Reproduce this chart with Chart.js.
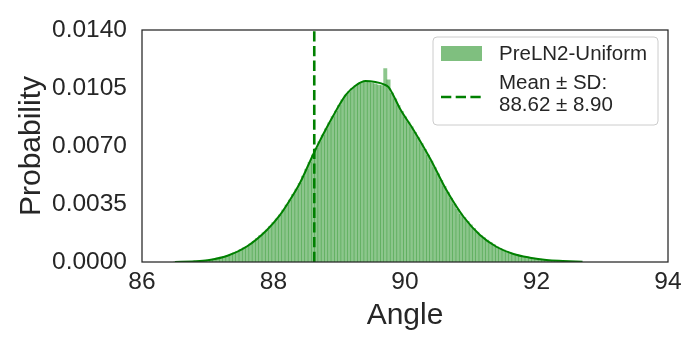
<!DOCTYPE html>
<html>
<head>
<meta charset="utf-8">
<script src="https://cdn.jsdelivr.net/npm/chart.js@4.4.1/dist/chart.umd.min.js"></script>
<style>
  html, body { margin: 0; padding: 0; background: #fff; }
</style>
</head>
<body>
<canvas id="myChart" width="700" height="350"></canvas>
<script>
// histogram bins (0.05 wide), first bin centred at 86.50
const binStart = 86.5;
const binWidth = 0.05;
const histProb = [
  0.000000, 0.000005, 0.000010, 0.000015, 0.000020, 0.000030, 0.000040, 0.000055, 0.000070, 0.000090,
  0.000110, 0.000150, 0.000190, 0.000240, 0.000290, 0.000330, 0.000380, 0.000460, 0.000550, 0.000650,
  0.000750, 0.000850, 0.000950, 0.001090, 0.001250, 0.001420, 0.001600, 0.001760, 0.001930, 0.002150,
  0.002380, 0.002600, 0.002840, 0.003140, 0.003440, 0.003740, 0.004080, 0.004400, 0.004750, 0.005180,
  0.005600, 0.006020, 0.006460, 0.006860, 0.007260, 0.007660, 0.008030, 0.008400, 0.008770, 0.009100,
  0.009450, 0.009780, 0.010080, 0.010280, 0.010480, 0.010650, 0.010750, 0.010840, 0.010900, 0.010850,
  0.010800, 0.010750, 0.010680, 0.010650, 0.011670, 0.011000, 0.010200, 0.009850, 0.009440, 0.009090,
  0.008760, 0.008450, 0.008150, 0.007830, 0.007500, 0.007150, 0.006800, 0.006450, 0.006090, 0.005700,
  0.005320, 0.004930, 0.004560, 0.004200, 0.003850, 0.003500, 0.003180, 0.002890, 0.002680, 0.002450,
  0.002240, 0.002020, 0.001800, 0.001600, 0.001460, 0.001320, 0.001180, 0.001050, 0.000910, 0.000820,
  0.000730, 0.000640, 0.000560, 0.000480, 0.000430, 0.000390, 0.000340, 0.000300, 0.000260, 0.000230,
  0.000200, 0.000170, 0.000140, 0.000120, 0.000110, 0.000090, 0.000080, 0.000070, 0.000060, 0.000045,
  0.000035, 0.000025, 0.000015
];

// kde curve
const kdeX = [86.5, 86.8, 87.0, 87.3, 87.6, 87.9, 88.1, 88.25, 88.4, 88.6, 88.75, 88.9, 89.1, 89.25,
  89.4, 89.55, 89.68, 89.75, 89.82, 89.92, 90.13, 90.38, 90.63, 90.89, 91.14, 91.39, 91.65, 91.9,
  92.15, 92.4, 92.7];
const kdeY = [0.00000, 0.00004, 0.00011, 0.00038, 0.00095, 0.00193, 0.00284, 0.00374, 0.00475, 0.00646,
  0.00766, 0.00877, 0.01008, 0.01065, 0.01092, 0.01086, 0.01072, 0.01055, 0.01008, 0.00928, 0.00797,
  0.00626, 0.00434, 0.00273, 0.00163, 0.00092, 0.00048, 0.00026, 0.00012, 0.00006, 0.00001];

const meanAngle = 88.62;
const sdAngle = 8.90;
const seriesName = 'PreLN2-Uniform';
const meanLabel = ['Mean \u00b1 SD:', meanAngle.toFixed(2) + ' \u00b1 ' + sdAngle.toFixed(2)];

const xTicks = [86, 88, 90, 92, 94];
const yTicks = [0, 0.0035, 0.007, 0.0105, 0.014];

const green = 'rgb(0,128,0)';
const textColor = '#262626';
const fontFamily = '"Liberation Sans", Arial, sans-serif';

const histData = histProb.map((p, i) => ({ x: binStart + i * binWidth, y: p }));
const kdeData = kdeX.map((x, i) => ({ x: x, y: kdeY[i] }));
const meanData = [{ x: meanAngle, y: yTicks[0] }, { x: meanAngle, y: yTicks[yTicks.length - 1] }];

const frameAndLegend = {
  id: 'frameAndLegend',
  afterDraw(chart) {
    const { ctx, chartArea: a } = chart;
    ctx.save();
    ctx.strokeStyle = textColor;
    ctx.lineWidth = 1.25;
    ctx.strokeRect(a.left, a.top, a.right - a.left, a.bottom - a.top);

    // legend box, upper right
    const bx = a.right - 235, by = a.top + 7, bw = 225, bh = 88;
    ctx.beginPath();
    ctx.roundRect(bx, by, bw, bh, 4);
    ctx.fillStyle = 'rgba(255,255,255,0.8)';
    ctx.fill();
    ctx.strokeStyle = '#cccccc';
    ctx.lineWidth = 1;
    ctx.stroke();

    ctx.fillStyle = 'rgba(0,128,0,0.5)';
    ctx.fillRect(bx + 8, by + 9, 41, 15);

    ctx.beginPath();
    ctx.setLineDash([10.3, 4.4]);
    ctx.strokeStyle = green;
    ctx.lineWidth = 2.6;
    ctx.moveTo(bx + 8, by + 60);
    ctx.lineTo(bx + 49, by + 60);
    ctx.stroke();
    ctx.setLineDash([]);

    ctx.fillStyle = textColor;
    ctx.font = '20.5px ' + fontFamily;
    ctx.textBaseline = 'middle';
    ctx.textAlign = 'left';
    ctx.fillText(seriesName, bx + 66, by + 17);
    ctx.fillText(meanLabel[0], bx + 66, by + 46.5);
    ctx.fillText(meanLabel[1], bx + 66, by + 68);
    ctx.restore();
  }
};

const config = {
  type: 'bar',
  data: {
    datasets: [
      {
        type: 'line',
        label: meanLabel.join(' '),
        data: meanData,
        borderColor: green,
        borderWidth: 2.6,
        borderDash: [10.3, 4.4],
        pointRadius: 0,
        order: 1
      },
      {
        type: 'line',
        label: 'kde',
        data: kdeData,
        borderColor: green,
        borderWidth: 2,
        pointRadius: 0,
        cubicInterpolationMode: 'monotone',
        order: 2
      },
      {
        label: seriesName,
        data: histData,
        backgroundColor: 'rgba(0,128,0,0.45)',
        borderWidth: 0,
        barPercentage: 1,
        categoryPercentage: 1,
        order: 3
      }
    ]
  },
  options: {
    responsive: false,
    animation: false,
    layout: { padding: { left: 0, right: 32, top: 30, bottom: 0 } },
    plugins: {
      legend: { display: false },
      tooltip: { enabled: false }
    },
    scales: {
      x: {
        type: 'linear',
        min: xTicks[0],
        max: xTicks[xTicks.length - 1],
        offset: false,
        grid: { display: false, drawTicks: false },
        border: { display: false },
        afterBuildTicks: s => { s.ticks = xTicks.map(v => ({ value: v })); },
        afterFit: s => { s.height = 88; },
        ticks: {
          color: textColor,
          padding: 6,
          font: { family: fontFamily, size: 24.5 },
          callback: v => String(v)
        },
        title: {
          display: true,
          text: 'Angle',
          color: textColor,
          font: { family: fontFamily, size: 30 },
          padding: { top: 0, bottom: 16 }
        }
      },
      y: {
        min: yTicks[0],
        max: yTicks[yTicks.length - 1],
        grid: { display: false, drawTicks: false },
        border: { display: false },
        afterBuildTicks: s => { s.ticks = yTicks.map(v => ({ value: v })); },
        afterFit: s => { s.width = 142; },
        ticks: {
          color: textColor,
          padding: 15,
          font: { family: fontFamily, size: 24.5 },
          callback: v => Number(v).toFixed(4)
        },
        title: {
          display: true,
          text: 'Probability',
          color: textColor,
          font: { family: fontFamily, size: 30 },
          padding: { top: 14, bottom: 0 }
        }
      }
    }
  },
  plugins: [frameAndLegend]
};

const myChart = new Chart(document.getElementById('myChart'), config);
</script>
</body>
</html>
